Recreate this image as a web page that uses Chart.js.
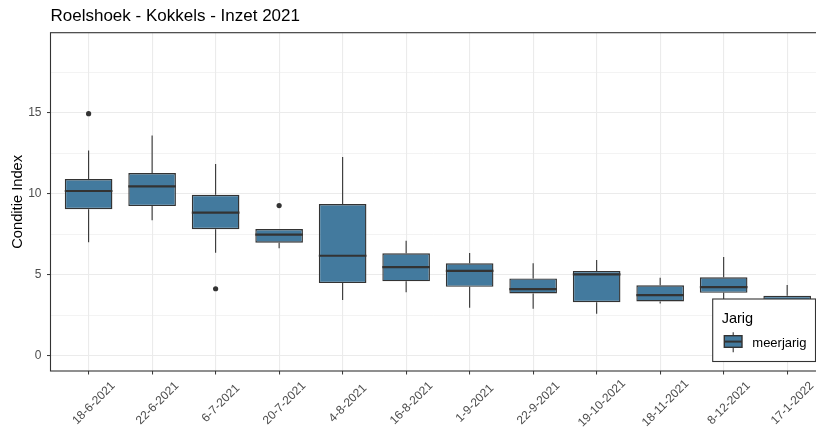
<!DOCTYPE html>
<html>
<head>
<meta charset="utf-8">
<script src="https://cdn.jsdelivr.net/npm/chart.js@4/dist/chart.umd.min.js"></script>
<style>
html,body{margin:0;padding:0;background:#fff;overflow:hidden}
canvas{display:block}
</style>
</head>
<body>
<canvas id="c" width="816" height="428"></canvas>
<script>
// ---- data ----
const dates = ['18-6-2021','22-6-2021','6-7-2021','20-7-2021','4-8-2021','16-8-2021','1-9-2021','22-9-2021','19-10-2021','18-11-2021','8-12-2021','17-1-2022'];
const whiskerLow  = [7.00, 8.37, 6.36, 6.63, 3.43, 3.92, 2.95, 2.89, 2.58, 3.22, 3.20, 2.70];
const quartile1   = [9.05, 9.24, 7.81, 6.98, 4.48, 4.59, 4.25, 3.84, 3.30, 3.35, 3.88, 3.05];
const medians     = [10.17, 10.45, 8.84, 7.48, 6.17, 5.47, 5.23, 4.11, 5.02, 3.74, 4.23, 3.40];
const quartile3   = [10.91, 11.28, 9.94, 7.82, 9.36, 6.32, 5.70, 4.77, 5.23, 4.34, 4.84, 3.70];
const whiskerHigh = [12.67, 13.60, 11.84, 7.82, 12.27, 7.10, 6.34, 5.70, 5.91, 4.81, 6.09, 4.36];
const outliers    = [[14.95], [], [4.13], [9.27], [], [], [], [], [], [], [], []];
const yMajorTicks = [0, 5, 10, 15];
const yMinorTicks = [2.5, 7.5, 12.5, 17.5];
const seriesName = 'meerjarig';
const legendTitle = 'Jarig';
const chartTitle = 'Roelshoek - Kokkels - Inzet 2021';
const yTitle = 'Conditie Index';

// ---- styling ----
const FONT = "'Liberation Sans', Arial, sans-serif";
const FILL = '#437A9E';
const LINE = '#333333';
const GRID = '#EBEBEB';
Chart.defaults.font.family = FONT;

const boxData = dates.map((d, i) => ({ x: i, y: [quartile1[i], quartile3[i]] }));
const outlierData = [];
outliers.forEach((arr, i) => arr.forEach(v => outlierData.push({ x: i, y: v })));

const extras = {
  id: 'extras',
  beforeDatasetsDraw(chart) {
    const { ctx } = chart;
    const ys = chart.scales.y;
    const meta = chart.getDatasetMeta(0);
    ctx.save();
    ctx.strokeStyle = LINE;
    ctx.lineWidth = 1.1;
    meta.data.forEach((bar, i) => {
      ctx.beginPath();
      ctx.moveTo(bar.x, ys.getPixelForValue(whiskerHigh[i]));
      ctx.lineTo(bar.x, ys.getPixelForValue(quartile3[i]));
      ctx.moveTo(bar.x, ys.getPixelForValue(quartile1[i]));
      ctx.lineTo(bar.x, ys.getPixelForValue(whiskerLow[i]));
      ctx.stroke();
    });
    ctx.restore();
  },
  afterDatasetsDraw(chart) {
    const { ctx } = chart;
    const ys = chart.scales.y;
    const meta = chart.getDatasetMeta(0);
    ctx.save();
    ctx.strokeStyle = LINE;
    ctx.lineWidth = 2.2;
    meta.data.forEach((bar, i) => {
      const py = ys.getPixelForValue(medians[i]);
      const half = bar.width / 2;
      ctx.beginPath();
      ctx.moveTo(bar.x - half, py);
      ctx.lineTo(bar.x + half, py);
      ctx.stroke();
    });
    ctx.restore();
  },
  afterDraw(chart) {
    const { ctx, chartArea: ca } = chart;
    const xs = chart.scales.x;
    ctx.save();
    // panel border
    ctx.strokeStyle = LINE;
    ctx.lineWidth = 1.1;
    ctx.strokeRect(ca.left, ca.top, ca.right - ca.left + 2, ca.bottom - ca.top);
    // rotated, centred x labels
    ctx.fillStyle = '#4D4D4D';
    ctx.font = '12px ' + FONT;
    ctx.textAlign = 'center';
    ctx.textBaseline = 'middle';
    dates.forEach((d, i) => {
      const px = xs.getPixelForValue(i);
      ctx.save();
      ctx.translate(px + 5.3, ca.bottom + 32.3);
      ctx.rotate(-Math.PI / 4);
      ctx.fillText(d, 0, 0);
      ctx.restore();
    });
    // legend box
    const right = ca.right - 0.5, bottom = ca.bottom - 9.5;
    const left = right - 102.8, top = bottom - 62.5;
    ctx.fillStyle = '#fff';
    ctx.fillRect(left, top, right - left, bottom - top);
    ctx.strokeStyle = LINE;
    ctx.lineWidth = 1.1;
    ctx.strokeRect(left, top, right - left, bottom - top);
    ctx.fillStyle = '#000';
    ctx.textAlign = 'left';
    ctx.textBaseline = 'alphabetic';
    ctx.font = '14.5px ' + FONT;
    ctx.fillText(legendTitle, left + 9, top + 24.3);
    // key glyph
    const kx = left + 20.5;
    ctx.strokeStyle = LINE;
    ctx.lineWidth = 1.1;
    ctx.beginPath();
    ctx.moveTo(kx, top + 33.3); ctx.lineTo(kx, top + 53.3);
    ctx.stroke();
    ctx.fillStyle = FILL;
    ctx.fillRect(left + 11.6, top + 36.7, 17.7, 11.6);
    ctx.lineWidth = 1.4;
    ctx.strokeRect(left + 11.6, top + 36.7, 17.7, 11.6);
    ctx.lineWidth = 2;
    ctx.beginPath();
    ctx.moveTo(left + 11.6, top + 42.6); ctx.lineTo(left + 29.3, top + 42.6);
    ctx.stroke();
    ctx.fillStyle = '#000';
    ctx.font = '13px ' + FONT;
    ctx.fillText(seriesName, left + 39.6, top + 47.7);
    ctx.restore();
  }
};

new Chart(document.getElementById('c'), {
  type: 'bar',
  data: {
    datasets: [
      {
        type: 'bar',
        label: seriesName,
        data: boxData,
        backgroundColor: FILL,
        borderColor: LINE,
        borderWidth: 1.4,
        borderSkipped: false,
        categoryPercentage: 1,
        barPercentage: 0.75
      },
      {
        type: 'scatter',
        label: 'outliers',
        data: outlierData,
        pointRadius: 2.6,
        pointHoverRadius: 2.6,
        backgroundColor: LINE,
        borderWidth: 0
      }
    ]
  },
  options: {
    responsive: false,
    devicePixelRatio: 1,
    animation: false,
    events: [],
    layout: { padding: 0, autoPadding: false },
    plugins: {
      legend: { display: false },
      tooltip: { enabled: false },
      title: {
        display: true,
        text: chartTitle,
        align: 'start',
        fullSize: false,
        color: '#000',
        font: { size: 17, weight: 'normal' },
        padding: { top: 6.3, bottom: 6 }
      }
    },
    scales: {
      x: {
        type: 'linear',
        min: -0.6,
        max: 11.454,
        offset: false,
        afterBuildTicks: s => { s.ticks = dates.map((d, i) => ({ value: i })); },
        afterFit: s => { s.height = 57; },
        ticks: { display: false, autoSkip: false },
        grid: { color: GRID, lineWidth: 1.1, offset: false, drawTicks: true, tickLength: 3.5, tickColor: LINE, tickWidth: 1 },
        border: { display: false }
      },
      y: {
        min: -0.95,
        max: 19.95,
        afterBuildTicks: s => {
          s.ticks = yMajorTicks.concat(yMinorTicks).sort((a, b) => a - b).map(v => ({ value: v }));
        },
        afterFit: s => { s.width = 50.5; },
        ticks: {
          autoSkip: false,
          color: '#4D4D4D',
          font: { size: 12 },
          padding: 5.5,
          callback: v => yMajorTicks.includes(v) ? String(v) : ''
        },
        grid: {
          color: GRID,
          lineWidth: c => yMajorTicks.includes(c.tick.value) ? 1.1 : 0.6,
          tickLength: 3.5,
          tickColor: c => yMajorTicks.includes(c.tick.value) ? LINE : 'rgba(0,0,0,0)',
          tickWidth: 1
        },
        border: { display: false },
        title: {
          display: true,
          text: yTitle,
          color: '#000',
          font: { size: 14.7 },
          padding: { top: 9.2, bottom: 0 }
        }
      }
    }
  },
  plugins: [extras]
});
</script>
</body>
</html>
